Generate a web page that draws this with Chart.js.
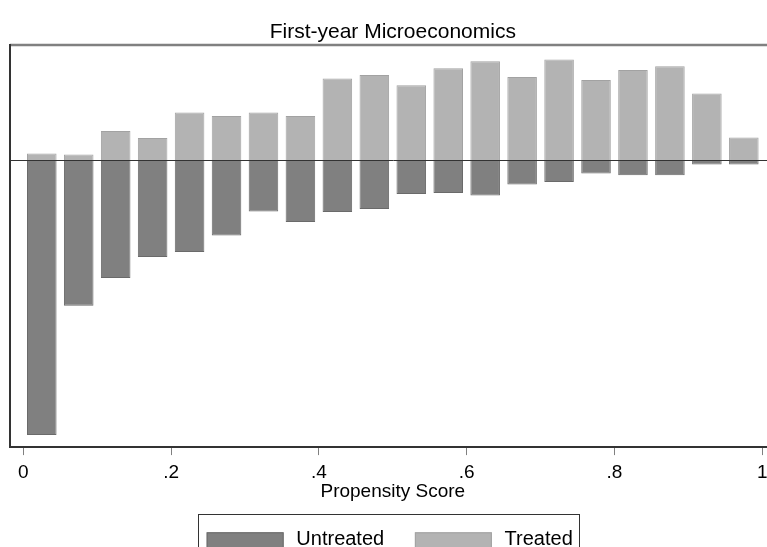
<!DOCTYPE html>
<html>
<head>
<meta charset="utf-8">
<script src="https://cdn.jsdelivr.net/npm/chart.js@4/dist/chart.umd.min.js"></script>
<style>
  html, body { margin: 0; padding: 0; background: #fff; overflow: hidden; }
  #wrap { width: 777px; height: 547px; }
</style>
</head>
<body>
<div id="wrap"><canvas id="chart"></canvas></div>
<script>
// bin midpoints of the propensity score (bins of width .05)
const scoreBins = [0.025, 0.075, 0.125, 0.175, 0.225, 0.275, 0.325, 0.375, 0.425, 0.475,
                   0.525, 0.575, 0.625, 0.675, 0.725, 0.775, 0.825, 0.875, 0.925, 0.975];

// treated share drawn above zero
const treated = [0.67, 0.57, 2.93, 2.23, 4.77, 4.43, 4.77, 4.43, 8.17, 8.53,
                 7.5, 9.2, 9.9, 8.33, 10.07, 8.03, 9.03, 9.4, 6.67, 2.27];

// untreated share drawn below zero
const untreated = [-27.5, -14.57, -11.77, -9.67, -9.17, -7.53, -5.13, -6.17, -5.17, -4.87,
                   -3.37, -3.27, -3.53, -2.43, -2.17, -1.33, -1.5, -1.5, -0.43, -0.43];

const tickValues = [0, 0.2, 0.4, 0.6, 0.8, 1];
const tickLabels = ["0", ".2", ".4", ".6", ".8", "1"];

Chart.defaults.font.family = "'Liberation Sans', Arial, sans-serif";
Chart.defaults.color = "#000";

function toPoints(vals) {
  return vals.map((v, i) => ({ x: scoreBins[i], y: v }));
}

// frame lines, zero line and the boxed legend
const frame = {
  id: "frame",
  afterDatasetsDraw(chart) {
    const { ctx, chartArea: a, scales } = chart;
    ctx.save();
    // top border
    ctx.strokeStyle = "#808080";
    ctx.lineWidth = 2.5;
    ctx.beginPath();
    ctx.moveTo(a.left, a.top);
    ctx.lineTo(chart.width, a.top);
    ctx.stroke();
    // left axis
    ctx.strokeStyle = "#333";
    ctx.lineWidth = 2;
    ctx.beginPath();
    ctx.moveTo(a.left, a.top - 1);
    ctx.lineTo(a.left, a.bottom + 1);
    ctx.stroke();
    // zero line
    const y0 = Math.round(scales.y.getPixelForValue(0)) + 0.5;
    ctx.strokeStyle = "#333";
    ctx.lineWidth = 1;
    ctx.beginPath();
    ctx.moveTo(a.left, y0);
    ctx.lineTo(chart.width, y0);
    ctx.stroke();
    ctx.restore();
  },
  afterDraw(chart) {
    const { ctx } = chart;
    const sets = chart.data.datasets;
    ctx.save();
    ctx.font = "20px 'Liberation Sans', Arial, sans-serif";
    const swW = 77, swH = 28, gap = 12.7, itemGap = 30.7, padL = 8.4, padR = 6;
    const widths = sets.map(d => ctx.measureText(d.label).width);
    let total = padL + padR;
    sets.forEach((d, i) => { total += swW + gap + widths[i] + (i ? itemGap : 0); });
    const left = chart.width / 2 - total / 2;
    const top = chart.scales.x.bottom + 12.4;
    ctx.strokeStyle = "#333";
    ctx.lineWidth = 1;
    ctx.strokeRect(Math.round(left) + 0.5, Math.round(top) + 0.5, Math.round(total), 60);
    let x = left + padL;
    sets.forEach((d, i) => {
      if (i) x += itemGap;
      ctx.fillStyle = d.backgroundColor;
      ctx.fillRect(x, top + 18.3, swW, swH);
      ctx.strokeStyle = d.borderColor;
      ctx.strokeRect(x + 0.5, top + 18.8, swW - 1, swH);
      x += swW + gap;
      ctx.fillStyle = "#000";
      ctx.textBaseline = "middle";
      ctx.fillText(d.label, x, top + 25.5);
      x += widths[i];
    });
    ctx.restore();
  }
};

new Chart(document.getElementById("chart"), {
  type: "bar",
  data: {
    datasets: [
      {
        label: "Untreated",
        data: toPoints(untreated),
        backgroundColor: "#808080",
        borderColor: "#6a6a6a",
        borderWidth: 1,
        grouped: false,
        categoryPercentage: 1,
        barPercentage: 0.8
      },
      {
        label: "Treated",
        data: toPoints(treated),
        backgroundColor: "#b3b3b3",
        borderColor: "#a2a2a2",
        borderWidth: 1,
        grouped: false,
        categoryPercentage: 1,
        barPercentage: 0.8
      }
    ]
  },
  options: {
    responsive: true,
    maintainAspectRatio: false,
    animation: false,
    layout: { padding: { left: 10, right: 1.4, top: 0, bottom: 45.4 } },
    plugins: {
      legend: { display: false },
      tooltip: { enabled: false },
      title: {
        display: true,
        text: "First-year Microeconomics",
        font: { size: 21, weight: "normal", lineHeight: 1.2 },
        padding: { top: 19.4, bottom: 0.4 }
      }
    },
    scales: {
      x: {
        type: "linear",
        min: -0.018,
        max: 1.018,
        offset: false,
        afterBuildTicks(scale) {
          scale.ticks = tickValues.map(v => ({ value: v }));
        },
        ticks: {
          font: { size: 19, lineHeight: 1 },
          padding: 8,
          maxRotation: 0,
          autoSkip: false,
          callback(value) {
            const i = tickValues.indexOf(value);
            return i >= 0 ? tickLabels[i] : "";
          }
        },
        grid: { offset: false, drawOnChartArea: false, drawTicks: true, tickLength: 8, color: "#808080", lineWidth: 1 },
        border: { display: true, color: "#333", width: 2 },
        title: {
          display: true,
          text: "Propensity Score",
          font: { size: 19, lineHeight: 1 },
          padding: { top: -7.5, bottom: 0 }
        }
      },
      y: {
        display: false,
        min: -28.7,
        max: 11.53
      }
    }
  },
  plugins: [frame]
});
</script>
</body>
</html>
